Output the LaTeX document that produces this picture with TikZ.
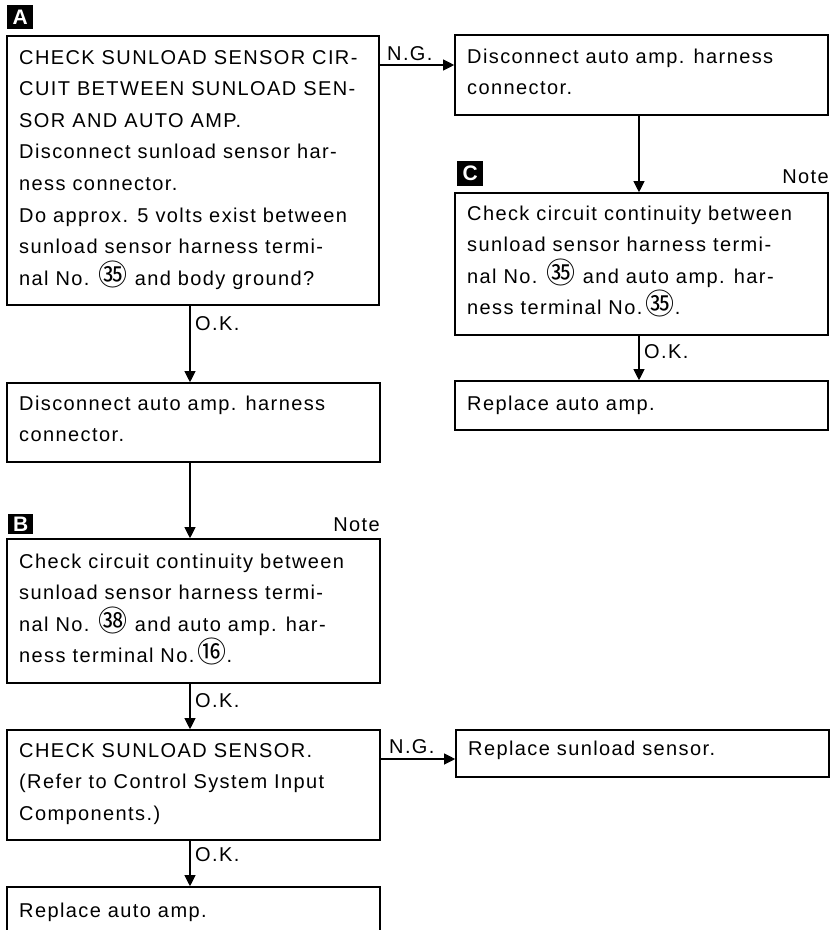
\documentclass[tikz,border=0pt]{standalone}
\usepackage{fontspec}
\setmainfont{Liberation Sans}[LetterSpace=7]
\newfontfamily\tagfont{Liberation Sans}
\newfontfamily\circfont{Noto Sans CJK SC}[Scale=1.45]
\usetikzlibrary{arrows.meta,fit}
% circled terminal numbers
\newcommand\cnum[1]{{\circfont #1}}

\tikzset{
  flowbox/.style={draw, line width=1.6pt, inner sep=0pt},
  boxtext/.style={anchor=base west, inner sep=0pt, font=\fontsize{20}{31.6}\selectfont},
  tag/.style={fill=black, text=white, inner sep=0pt, anchor=north west,
    font=\tagfont\bfseries\fontsize{21}{21}\selectfont},
  flow/.style={line width=1.1pt, -{Triangle[length=11pt,width=11pt]}},
  lbl/.style={anchor=base west, inner sep=0pt, font=\fontsize{20}{22}\selectfont},
  notelbl/.style={anchor=base east, inner sep=0pt, font=\fontsize{20}{22}\selectfont},
}

\begin{document}
\begin{tikzpicture}[x=1pt,y=-1pt]
\useasboundingbox (0,0) rectangle (838,930);
\clip (0,0) rectangle (838,930);
\fill[white] (0,0) rectangle (838,930);

% ---- left column boxes ----
\node[flowbox, fit={(7,36) (379,305)}] (A) {};
\node[boxtext] (Atext) at (19,64) {\parbox[t]{355pt}{%
CHECK SUNLOAD SENSOR CIR-\\
CUIT BETWEEN SUNLOAD SEN-\\
SOR AND AUTO AMP.\\
Disconnect sunload sensor har-\\
ness connector.\\
Do approx. 5 volts exist between\\
sunload sensor harness termi-\\
nal No. \cnum{㉟} and body ground?}};

\node[flowbox, fit={(7,383) (380,462)}] (D2) {};
\node[boxtext] (D2text) at (19,410) {\parbox[t]{355pt}{%
Disconnect auto amp. harness\\
connector.}};

\node[flowbox, fit={(7,539) (380,683)}] (B) {};
\node[boxtext] (Btext) at (19,568) {\parbox[t]{355pt}{%
Check circuit continuity between\\
sunload sensor harness termi-\\
nal No. \cnum{㊳} and auto amp. har-\\
ness terminal No.\,\cnum{⑯}.}};

\node[flowbox, fit={(7,730) (380,840)}] (S) {};
\node[boxtext] (Stext) at (19,757) {\parbox[t]{355pt}{%
CHECK SUNLOAD SENSOR.\\
(Refer to Control System Input\\
Components.)}};

\node[flowbox, fit={(7,887) (380,960)}] (F) {};
\node[boxtext] (Ftext) at (19,917) {Replace auto amp.};

% ---- right column boxes ----
\node[flowbox, fit={(455,35) (828,115)}] (R1) {};
\node[boxtext] (R1text) at (467,63) {\parbox[t]{355pt}{%
Disconnect auto amp. harness\\
connector.}};

\node[flowbox, fit={(455,193) (828,335)}] (C) {};
\node[boxtext] (Ctext) at (467,220) {\parbox[t]{355pt}{%
Check circuit continuity between\\
sunload sensor harness termi-\\
nal No. \cnum{㉟} and auto amp. har-\\
ness terminal No.\,\cnum{㉟}.}};

\node[flowbox, fit={(455,381) (828,430)}] (R3) {};
\node[boxtext] (R3text) at (467,410) {Replace auto amp.};

\node[flowbox, fit={(456,730) (829,777)}] (RS) {};
\node[boxtext] (RStext) at (468,755) {Replace sunload sensor.};

% ---- step tags and notes ----
\node[tag, minimum width=26pt, minimum height=24pt] (tagA) at (7,5) {A};
\node[tag, minimum width=25pt, minimum height=20pt] (tagB) at (8,514) {B};
\node[tag, minimum width=26pt, minimum height=25pt] (tagC) at (457,161) {C};
\node[notelbl] (noteB) at (380,531) {Note};
\node[notelbl] (noteC) at (829,183) {Note};

% ---- connectors ----
\coordinate (lx) at (190,0);
\coordinate (rx) at (639,0);
\coordinate (ngA) at (0,65);
\coordinate (ngS) at (0,759);

\draw[flow] (A.south -| lx) -- (D2.north -| lx);
\draw[flow] (D2.south -| lx) -- (B.north -| lx);
\draw[flow] (B.south -| lx) -- (S.north -| lx);
\draw[flow] (S.south -| lx) -- (F.north -| lx);
\draw[flow] (R1.south -| rx) -- (C.north -| rx);
\draw[flow] (C.south -| rx) -- (R3.north -| rx);
\draw[flow] (A.east |- ngA) -- (R1.west |- ngA);
\draw[flow] (S.east |- ngS) -- (RS.west |- ngS);

% ---- branch labels ----
\node[lbl] (ok1) at (195,330) {O.K.};
\node[lbl] (ok2) at (195,707) {O.K.};
\node[lbl] (ok3) at (195,861) {O.K.};
\node[lbl] (ok4) at (644,358) {O.K.};
\node[lbl] (ng1) at (387,60) {N.G.};
\node[lbl] (ng2) at (389,753) {N.G.};
\end{tikzpicture}
\end{document}
